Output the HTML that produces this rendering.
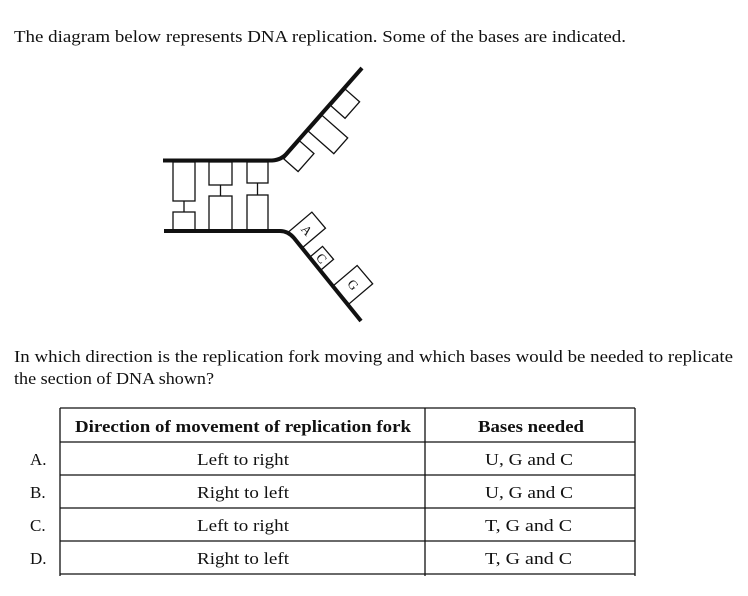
<!DOCTYPE html>
<html><head><meta charset="utf-8"><style>
html,body{margin:0;padding:0;background:#fff;}
svg{display:block;}
text{font-family:"Liberation Serif",serif;font-size:17px;fill:#111;}
</style></head><body>
<svg width="748" height="596" viewBox="0 0 748 596" xmlns="http://www.w3.org/2000/svg">
<text x="14" y="42" textLength="612" lengthAdjust="spacingAndGlyphs">The diagram below represents DNA replication. Some of the bases are indicated.</text>

<g fill="none" stroke="#111">
<path d="M163 160.5 H272 Q282 160 288 152 L362 68" stroke-width="4"/>
<path d="M164 231 H280 Q288 231 294 238 L361 321" stroke-width="4"/>
<g stroke-width="1.3">
<rect x="173" y="162" width="22" height="39"/>
<rect x="173" y="212" width="22" height="19"/>
<line x1="184" y1="201" x2="184" y2="212"/>
<rect x="209" y="162" width="23" height="23"/>
<rect x="209" y="196" width="23" height="35"/>
<line x1="220.5" y1="185" x2="220.5" y2="196"/>
<rect x="247" y="162" width="21" height="21"/>
<rect x="247" y="195" width="21" height="36"/>
<line x1="257.5" y1="183" x2="257.5" y2="195"/>
<g transform="translate(288,152) rotate(-48.6)">
<rect x="-8" y="1.5" width="24" height="19"/>
<rect x="29" y="1.5" width="21" height="34"/>
<rect x="63" y="1.5" width="22" height="19"/>
</g>
<g transform="translate(288,235) rotate(49.7)">
<rect x="-2" y="-33" width="21" height="31"/>
<rect x="31" y="-19" width="17" height="17"/>
<rect x="68" y="-33" width="24" height="31"/>
</g>
</g>
</g>
<g transform="translate(288,235) rotate(49.7)">
<text x="8.5" y="-13" text-anchor="middle" style="font-size:13px">A</text>
<text x="39.5" y="-6" text-anchor="middle" style="font-size:13px">C</text>
<text x="80" y="-13" text-anchor="middle" style="font-size:13px">G</text>
</g>

<text x="14" y="362" textLength="719" lengthAdjust="spacingAndGlyphs">In which direction is the replication fork moving and which bases would be needed to replicate</text>
<text x="14" y="384" textLength="200" lengthAdjust="spacingAndGlyphs">the section of DNA shown?</text>

<g stroke="#111" stroke-width="1.3">
<line x1="60" y1="408" x2="635" y2="408"/>
<line x1="60" y1="442" x2="635" y2="442"/>
<line x1="60" y1="475" x2="635" y2="475"/>
<line x1="60" y1="508" x2="635" y2="508"/>
<line x1="60" y1="541" x2="635" y2="541"/>
<line x1="60" y1="574" x2="635" y2="574"/>
<line x1="60" y1="408" x2="60" y2="576"/>
<line x1="425" y1="408" x2="425" y2="576"/>
<line x1="635" y1="408" x2="635" y2="576"/>
</g>
<text x="75" y="432" font-weight="bold" textLength="336" lengthAdjust="spacingAndGlyphs">Direction of movement of replication fork</text>
<text x="478" y="432" font-weight="bold" textLength="106" lengthAdjust="spacingAndGlyphs">Bases needed</text>

<text x="30" y="465">A.</text>
<text x="30" y="498">B.</text>
<text x="30" y="531">C.</text>
<text x="30" y="564">D.</text>
<text x="197" y="465" textLength="92" lengthAdjust="spacingAndGlyphs">Left to right</text>
<text x="197" y="498" textLength="92" lengthAdjust="spacingAndGlyphs">Right to left</text>
<text x="197" y="531" textLength="92" lengthAdjust="spacingAndGlyphs">Left to right</text>
<text x="197" y="564" textLength="92" lengthAdjust="spacingAndGlyphs">Right to left</text>
<text x="485" y="465" textLength="88" lengthAdjust="spacingAndGlyphs">U, G and C</text>
<text x="485" y="498" textLength="88" lengthAdjust="spacingAndGlyphs">U, G and C</text>
<text x="485" y="531" textLength="87" lengthAdjust="spacingAndGlyphs">T, G and C</text>
<text x="485" y="564" textLength="87" lengthAdjust="spacingAndGlyphs">T, G and C</text>
</svg>
</body></html>
